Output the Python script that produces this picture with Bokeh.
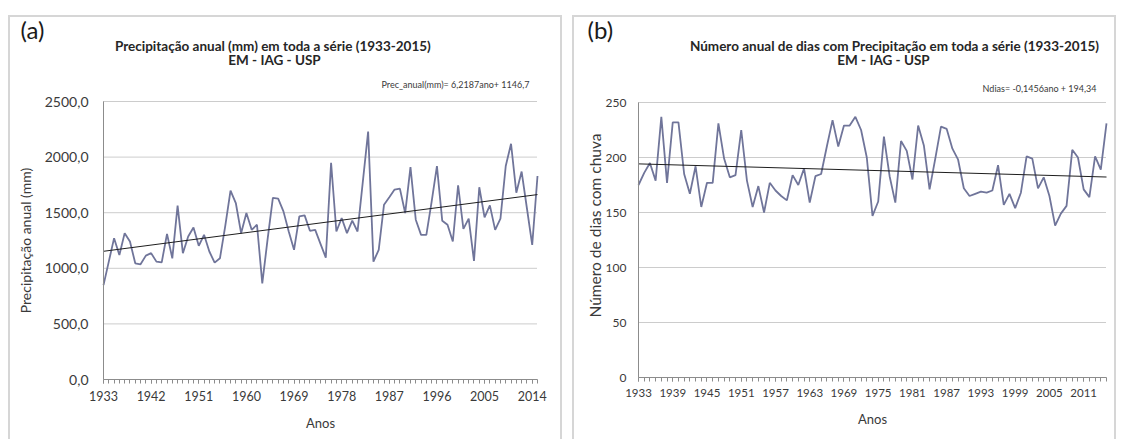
import math
from bokeh.plotting import figure
from bokeh.models import Range1d, FixedTicker, Label
from bokeh.layouts import row
from bokeh.embed import file_html
from bokeh.resources import INLINE

# ---------------- data ----------------
years = list(range(1933, 2016))

prec_anual = [849, 1060, 1271, 1120, 1316, 1241, 1045, 1036, 1114, 1136,
              1060, 1054, 1310, 1090, 1563, 1136, 1286, 1367, 1202, 1301,
              1151, 1051, 1090, 1380, 1699, 1587, 1316, 1497, 1346, 1392,
              864, 1260, 1633, 1627, 1512, 1331, 1166, 1467, 1476, 1337,
              1346, 1220, 1096, 1949, 1331, 1452, 1316, 1428, 1331, 1780,
              2229, 1060, 1166, 1572, 1639, 1708, 1717, 1497, 1910, 1437,
              1301, 1301, 1600, 1919, 1428, 1392, 1241, 1747, 1355, 1446,
              1066, 1729, 1458, 1566, 1346, 1446, 1920, 2120, 1680, 1870,
              1540, 1210, 1830]

dias_chuva = [175, 186, 195, 179, 237, 177, 232, 232, 185, 167,
              192, 155, 177, 177, 231, 199, 182, 184, 225, 179,
              155, 174, 150, 177, 170, 165, 161, 184, 175, 190,
              159, 183, 185, 210, 234, 210, 229, 229, 237, 225,
              200, 147, 160, 219, 183, 159, 215, 206, 180, 229,
              211, 171, 199, 228, 226, 208, 198, 172, 165, 167,
              169, 168, 170, 193, 157, 167, 154, 168, 201, 199,
              172, 182, 165, 138, 149, 156, 207, 200, 171, 164,
              201, 189, 231]

# trend lines as printed on the chart (ano = 1 .. 83)
a_slope, a_icpt = 6.2187, 1146.7
b_slope, b_icpt = -0.1456, 194.34

yticks_a = [0, 500, 1000, 1500, 2000, 2500]
yticks_b = [0, 50, 100, 150, 200, 250]
xlabels_a = years[::9]
xlabels_b = years[::6]

title_a = "Precipitação anual (mm)  em toda a série (1933-2015)"
title_b = "Número anual de dias com Precipitação em toda a série (1933-2015)"
subtitle = "EM - IAG - USP"
eq_a = "Prec_anual(mm)= 6,2187ano+ 1146,7"
eq_b = "Ndias= -0,1456ano + 194,34"
ytitle_a = "Precipitação anual (mm)"
ytitle_b = "Número de dias com chuva"

# ---------------- style ----------------
FONT = "Lato"
LINE_C = "#70759a"
TXT_C = "#3a3a3a"
AX_C = "#8c8c8c"
GRID_C = "#999999"
BOX = {"box-shadow": "inset 0 2px 0 #d6d6d6, inset 2px 0 0 #d6d6d6, inset -2px 0 0 #d6d6d6"}

n = len(years)


class Panel:
    """Maps canvas pixels (from the top-left of the panel) to data units."""

    def __init__(self, W, H, fl, fr, ft, fb, ymax):
        self.W, self.H = W, H
        self.fl, self.fr, self.ft, self.fb = fl, fr, ft, fb
        self.ppx = (fr - fl) / (years[-1] - years[0])
        self.ppy = (fb - ft) / float(ymax)

    def x(self, px):
        return years[0] + (px - self.fl) / self.ppx

    def y(self, py):
        return (self.fb - py) / self.ppy


def make_fig(g, margin):
    p = figure(width=g.W, height=g.H, output_backend="svg", toolbar_location=None, tools="",
               x_range=Range1d(g.x(0), g.x(g.W)), y_range=Range1d(g.y(g.H), g.y(0)),
               min_border=0, margin=margin, outline_line_color=None,
               background_fill_color=None, border_fill_color=None, styles=BOX)
    p.xgrid.visible = False
    p.ygrid.visible = False
    return p


def style_axes(p, yticks, xlabels, ylab, ylab_size, ytick_size, xtick_size, yl_std, ya_std):
    ya = p.yaxis[0]
    ya.fixed_location = years[0]
    ya.bounds = (yticks[0], yticks[-1])
    ya.ticker = FixedTicker(ticks=yticks)
    ya.major_tick_out = 0
    ya.major_tick_in = 0
    ya.minor_tick_out = 0
    ya.minor_tick_in = 0
    ya.axis_line_color = AX_C
    ya.major_label_text_font = FONT
    ya.major_label_text_font_size = ytick_size
    ya.major_label_text_color = TXT_C
    ya.major_label_standoff = yl_std
    if ylab:
        ya.axis_label = ylab
        ya.axis_label_text_font = FONT
        ya.axis_label_text_font_size = ylab_size
        ya.axis_label_text_font_style = "normal"
        ya.axis_label_text_color = TXT_C
        ya.axis_label_standoff = ya_std

    xa = p.xaxis[0]
    xa.fixed_location = 0
    xa.bounds = (years[0], years[-1])
    xa.ticker = FixedTicker(ticks=xlabels, minor_ticks=years)
    xa.major_tick_out = 4
    xa.major_tick_in = 0
    xa.minor_tick_out = 4
    xa.minor_tick_in = 0
    xa.major_tick_line_color = AX_C
    xa.minor_tick_line_color = AX_C
    xa.axis_line_color = AX_C
    xa.major_label_text_font = FONT
    xa.major_label_text_font_size = xtick_size
    xa.major_label_text_color = TXT_C
    xa.major_label_standoff = 7
    xa.axis_label = "Anos"
    xa.axis_label_text_font = FONT
    xa.axis_label_text_font_size = "13px"
    xa.axis_label_text_font_style = "normal"
    xa.axis_label_text_color = TXT_C
    xa.axis_label_standoff = 11

    # horizontal gridlines across the plot area only
    gy = yticks[1:]
    p.segment(x0=[years[0]] * len(gy), x1=[years[-1]] * len(gy), y0=gy, y1=gy,
              line_color=GRID_C, line_dash="1 1", line_width=1)


def add_text(p, g, px, py, text, size, align="center", bold=False, color="#262626", angle=0.0):
    p.add_layout(Label(x=g.x(px), y=g.y(py), text=text, text_font=FONT, text_font_size=size,
                       text_align=align, text_baseline="middle", text_color=color,
                       text_font_style="bold" if bold else "normal", angle=angle))


# ---------------- panel (a) ----------------
ga = Panel(554, 424, 95, 529, 86, 364, yticks_a[-1])
pa = make_fig(ga, (15, 0, 0, 8))
style_axes(pa, yticks_a, xlabels_a, ytitle_a, "14px", "14px", "12.5px", 15, 8)
pa.yaxis[0].major_label_overrides = {v: f"{v:.1f}".replace(".", ",") for v in yticks_a}

pa.line(years, prec_anual, line_color=LINE_C, line_width=1.8)
pa.line([years[0], years[-1]], [a_slope * 1 + a_icpt, a_slope * n + a_icpt],
        line_color="#1e1e1e", line_width=1)

add_text(pa, ga, 12, 14, "(a)", "24px", align="left", color="#1a1a1a")
add_text(pa, ga, 266, 30, title_a, "13.5px", bold=True)
add_text(pa, ga, 266, 44, subtitle, "13.5px", bold=True)
add_text(pa, ga, 521, 68.5, eq_a, "9px", align="right", color=TXT_C)

# ---------------- panel (b) ----------------
gb = Panel(544, 424, 66, 534, 87, 362, yticks_b[-1])
pb = make_fig(gb, (15, 0, 0, 10))
style_axes(pb, yticks_b, xlabels_b, None, None, "12px", "11.5px", 12, 3)

pb.line(years, dias_chuva, line_color=LINE_C, line_width=1.8)
pb.line([years[0], years[-1]], [b_slope * 1 + b_icpt, b_slope * n + b_icpt],
        line_color="#1e1e1e", line_width=1)

add_text(pb, gb, 15, 14, "(b)", "24px", align="left", color="#1a1a1a")
add_text(pb, gb, 322, 30, title_b, "13.5px", bold=True)
add_text(pb, gb, 311, 44, subtitle, "13.5px", bold=True)
add_text(pb, gb, 524, 73, eq_b, "9px", align="right", color=TXT_C)
add_text(pb, gb, 22, 210, ytitle_b, "15.5px", color=TXT_C, angle=math.pi / 2)

layout = row(pa, pb)
open("out.html", "w").write(file_html(layout, INLINE))
